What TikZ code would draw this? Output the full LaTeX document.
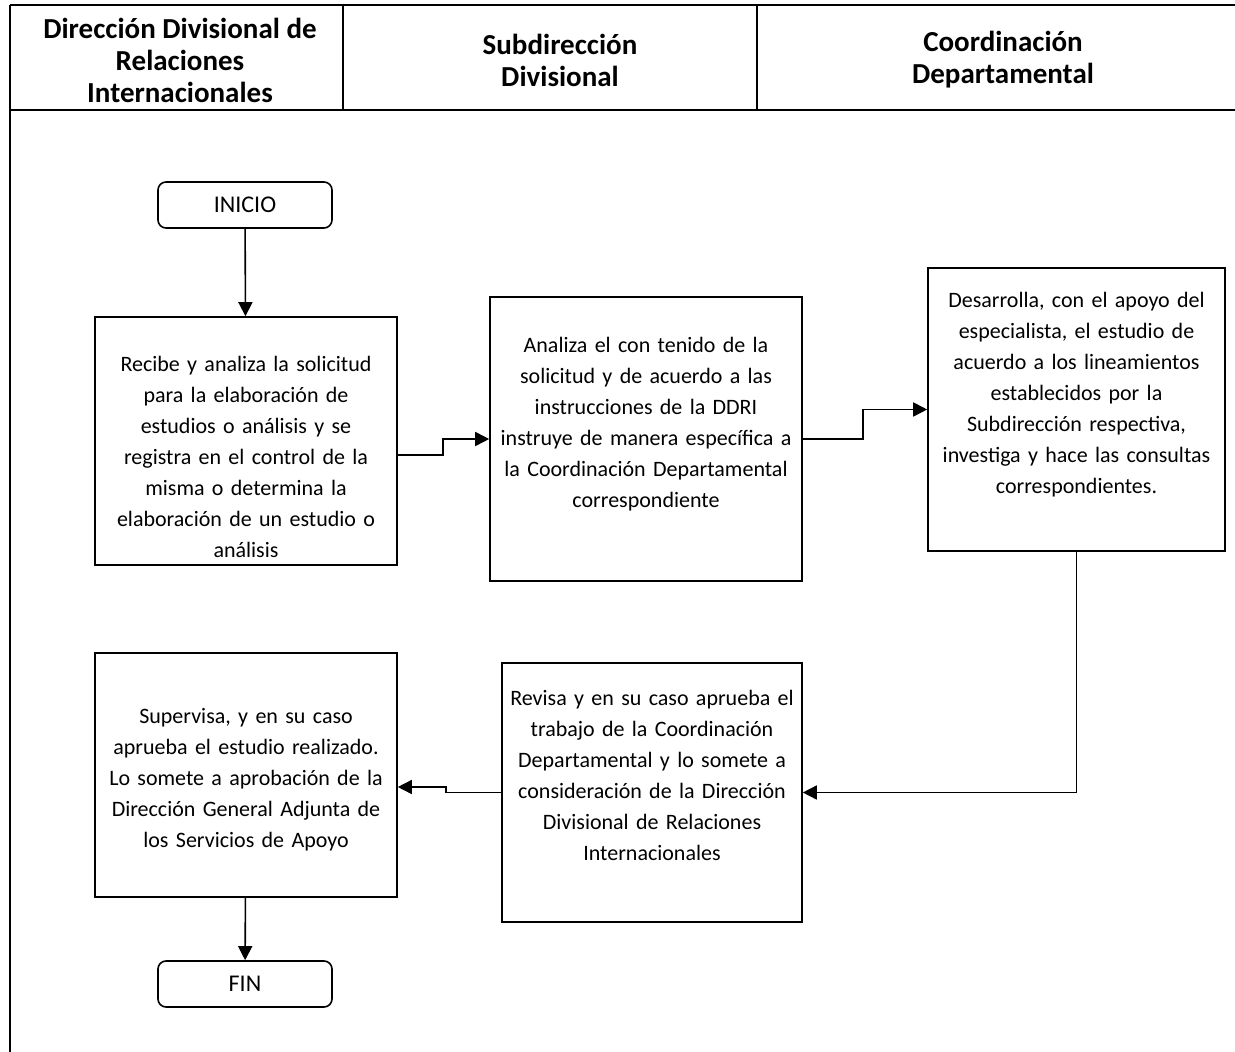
\documentclass[tikz,border=0pt]{standalone}
\usepackage{fontspec}
\setmainfont{Carlito}
\usepackage{tikz}
\usetikzlibrary{arrows.meta}

\begin{document}
\begin{tikzpicture}
	[x=0.5pt, y=-0.5pt, thick,
	 head/.style = {font=\fontsize{14.5}{16}\selectfont\bfseries, align=center},
	 proc/.style = {draw, rectangle, align=center, inner xsep=1pt, font=\fontsize{11}{15.5}\selectfont},
	 term/.style = {draw, rounded corners=4pt, minimum width=87pt, minimum height=23pt, font=\fontsize{12}{14}\selectfont},
	 arr/.style = {-{Triangle[length=7pt, width=7pt]}}]
	\useasboundingbox (0,0) rectangle (1235,1052);
	% frame and header
	\draw (10,5) -- (1235,5);
	\draw (10,110) -- (1235,110);
	\draw (10,5) -- (10,1052);
	\draw (343,5) -- (343,110);
	\draw (757,5) -- (757,110);
	\node[head] (h1) at (180,60) {Dirección Divisional de\\Relaciones\\Internacionales};
	\node[head] (h2) at (560,60) {Subdirección\\Divisional};
	\node[head] (h3) at (1003,60) {Coordinación\\Departamental};
	% steps
	\node[term] (0) at (245,205) {INICIO};
	\node[proc, minimum width=151pt, minimum height=124pt, text width=149pt] (1) at (246,441)
		{\rule{0pt}{24pt}Recibe y analiza la solicitud\\para la elaboración de\\estudios o análisis y se\\registra en el control de la\\misma o determina la\\elaboración de un estudio o\\análisis};
	\node[proc, minimum width=156pt, minimum height=142pt, text width=154pt] (2) at (646,439)
		{Analiza el con tenido de la\\solicitud y de acuerdo a las\\instrucciones de la DDRI\\instruye de manera específica a\\la Coordinación Departamental\\correspondiente\rule[-17pt]{0pt}{17pt}};
	\node[proc, minimum width=148.5pt, minimum height=141.5pt, text width=146pt] (3) at (1076.5,409.5)
		{Desarrolla, con el apoyo del\\especialista, el estudio de\\acuerdo a los lineamientos\\establecidos por la\\Subdirección respectiva,\\investiga y hace las consultas\\correspondientes.\rule[-17pt]{0pt}{17pt}};
	\node[proc, minimum width=150pt, minimum height=129.5pt, text width=148pt] (4) at (652,792.5)
		{Revisa y en su caso aprueba el\\trabajo de la Coordinación\\Departamental y lo somete a\\consideración de la Dirección\\Divisional de Relaciones\\Internacionales\rule[-17pt]{0pt}{17pt}};
	\node[proc, minimum width=151pt, minimum height=122pt, text width=149pt] (5) at (246,775)
		{\rule{0pt}{12pt}Supervisa, y en su caso\\aprueba el estudio realizado.\\Lo somete a aprobación de la\\Dirección General Adjunta de\\los Servicios de Apoyo};
	\node[term] (6) at (245,984) {FIN};
	% connectors
	\draw[arr] (0) -- (1);
	\draw[arr] ([yshift=-7pt]1.east) -- ++(45,0) |- (2.west);
	\draw[arr] (2.east) -- ++(60,0) |- (3.west);
	\draw[arr] (3.south) |- (4.east);
	\draw[arr] (4.west) -- ++(-55,0) |- ([yshift=-6pt]5.east);
	\draw[arr] (5) -- (6);
\end{tikzpicture}
\end{document}
